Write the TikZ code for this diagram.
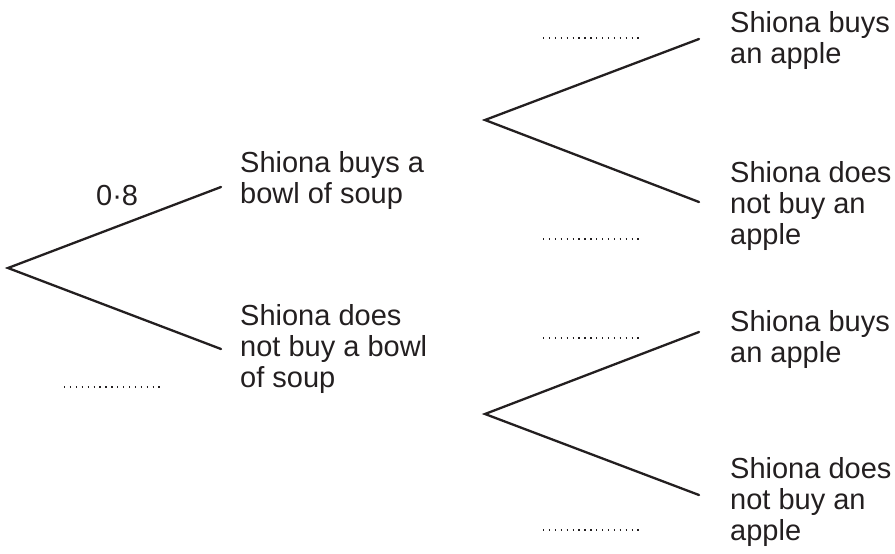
\documentclass[tikz,border=0pt]{standalone}
\usepackage{fontspec}
\setmainfont{Liberation Sans}
\definecolor{ink}{RGB}{35,31,32}
\begin{document}
\begin{tikzpicture}[x=1pt,y=-1pt,
  branch/.style={draw=ink,line width=2.3pt,line cap=round},
  blank/.style={draw=ink,line width=1.3pt,dash pattern=on 1.3pt off 4.6pt},
  lbl/.style={anchor=base west,inner sep=0pt,align=left,text=ink,
    font=\fontsize{29}{31}\selectfont}]
\useasboundingbox (0,0) rectangle (895,554);
% fork points
\coordinate (r) at (8,268);
\coordinate (s) at (221,187);
\coordinate (ns) at (221,349);
\coordinate (a) at (485,120);
\coordinate (a1) at (699,39);
\coordinate (a2) at (699,202);
\coordinate (b) at (485,414);
\coordinate (b1) at (699,332);
\coordinate (b2) at (699,495);
% branches
\draw[branch] (s) -- (r) -- (ns);
\draw[branch] (a1) -- (a) -- (a2);
\draw[branch] (b1) -- (b) -- (b2);
% labels (anchored at the baseline of their last line)
\node[lbl] (p08) at (96,205) {0·8};
\node[lbl] (soup) at (240,203) {Shiona buys a\\bowl of soup};
\node[lbl] (nosoup) at (240,387) {Shiona does\\not buy a bowl\\of soup};
\node[lbl] (ap1) at (730,63) {Shiona buys\\an apple};
\node[lbl] (nap1) at (730,244) {Shiona does\\not buy an\\apple};
\node[lbl] (ap2) at (730,362) {Shiona buys\\an apple};
\node[lbl] (nap2) at (730,540) {Shiona does\\not buy an\\apple};
% answer blanks
\coordinate (d0a) at (64,387); \coordinate (d0b) at (160,387);
\coordinate (d1a) at (543,38); \coordinate (d1b) at (640,38);
\coordinate (d2a) at (543,239); \coordinate (d2b) at (640,239);
\coordinate (d3a) at (543,338); \coordinate (d3b) at (640,338);
\coordinate (d4a) at (543,530); \coordinate (d4b) at (640,530);
\draw[blank] (d0a) -- (d0b);
\draw[blank] (d1a) -- (d1b);
\draw[blank] (d2a) -- (d2b);
\draw[blank] (d3a) -- (d3b);
\draw[blank] (d4a) -- (d4b);
\end{tikzpicture}
\end{document}
